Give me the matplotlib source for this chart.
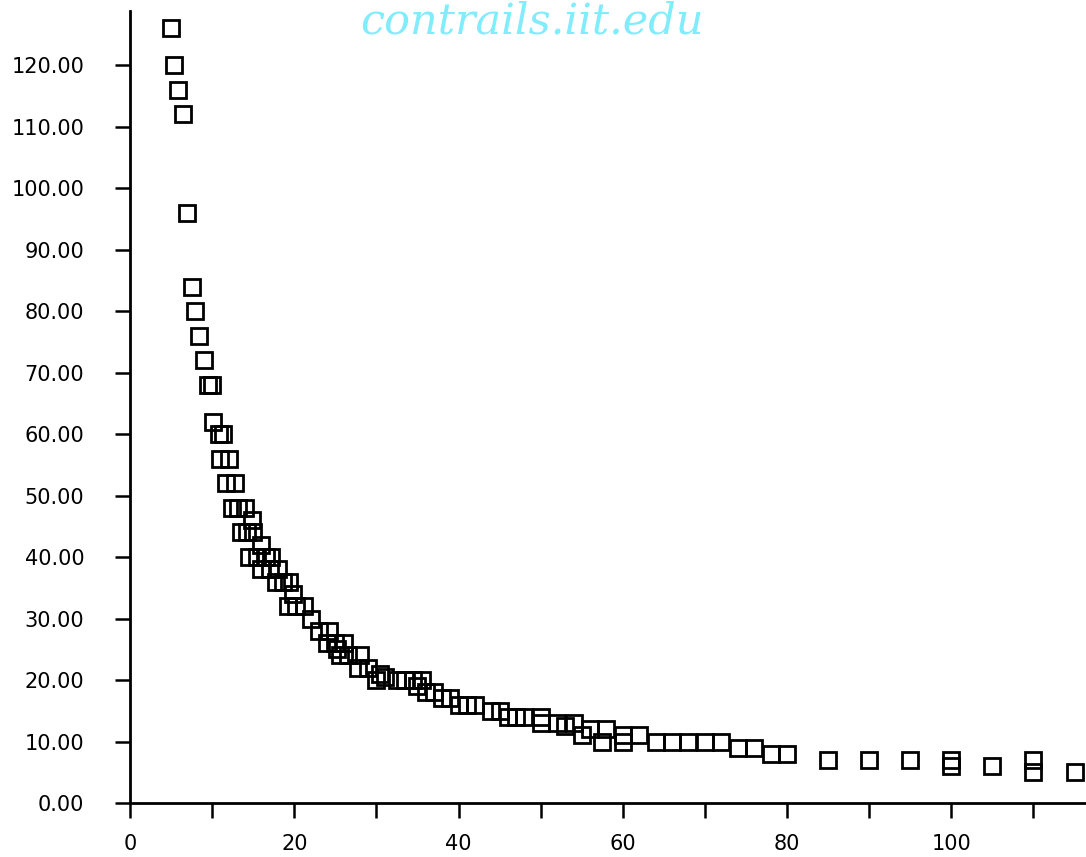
import matplotlib
matplotlib.use("Agg")
import matplotlib.pyplot as plt
import numpy as np


# DATA
x_vals = [5.0, 5.4, 5.9, 6.4, 6.9, 7.5, 7.9, 8.4, 9.0, 9.5, 10.0, 10.1,
          10.8, 11.3, 11.0, 12.0, 11.7, 12.8, 12.4, 13.2, 14.0, 14.8,
          13.5, 14.3, 15.0, 16.0, 14.5, 15.5, 16.5, 17.2, 16.0, 17.0,
          18.0, 17.8, 18.6, 19.3, 19.8, 19.2, 20.2, 21.2, 22.0, 23.0,
          24.2, 24.0, 25.0, 26.0, 25.2, 25.6, 26.6, 28.0, 27.8, 29.0,
          30.0, 31.0, 30.5, 32.5, 33.5, 34.5, 35.5, 35.0, 36.0, 37.0,
          38.0, 39.0, 40.0, 41.0, 42.0, 44.0, 45.0, 46.0, 47.0, 48.0,
          50.0, 50.0, 52.0, 53.0, 54.0, 55.0, 56.0, 58.0, 57.5, 60.0,
          60.0, 62.0, 64.0, 66.0, 68.0, 70.0, 72.0, 74.0, 76.0, 78.0,
          80.0, 85.0, 90.0, 95.0, 100.0, 100.0, 105.0, 110.0, 110.0, 115.0]
y_vals = [126, 120, 116, 112, 96, 84, 80, 76, 72, 68, 68, 62,
          60, 60, 56, 56, 52, 52, 48, 48, 48, 46,
          44, 44, 44, 42, 40, 40, 40, 40, 38, 38,
          38, 36, 36, 36, 34, 32, 32, 32, 30, 28,
          28, 26, 26, 26, 25, 24, 24, 24, 22, 22,
          20, 20.5, 21, 20, 20, 20, 20, 19, 18, 18,
          17, 17, 16, 16, 16, 15, 15, 14, 14, 14,
          14, 13, 13, 12.5, 13, 11, 12, 12, 10, 11,
          10, 11, 10, 10, 10, 10, 10, 9, 9, 8,
          8, 7, 7, 7, 7, 6, 6, 7, 5, 5]

x_ticks = list(range(0, 111, 10))
x_tick_labels = [str(t) if t % 20 == 0 else "" for t in x_ticks]
y_ticks = list(range(0, 121, 10))
y_tick_labels = ["%.2f" % t for t in y_ticks]


fig = plt.figure(figsize=(10.86, 8.57), dpi=100)
ax = fig.add_axes([0.1197, 0.063, 0.8803, 0.924])

ax.plot(x_vals, y_vals, linestyle="none", marker="s", markersize=11,
        markerfacecolor="none", markeredgecolor="black", markeredgewidth=2.0)

ax.set_xlim(0, 116.4)
ax.set_ylim(0, 128.8)

ax.set_xticks(x_ticks)
ax.set_xticklabels(x_tick_labels)
ax.set_yticks(y_ticks)
ax.set_yticklabels(y_tick_labels)

for side in ["top", "right"]:
    ax.spines[side].set_visible(False)
for side in ["left", "bottom"]:
    ax.spines[side].set_linewidth(2.0)

ax.tick_params(axis="both", direction="out", length=11, width=1.8,
               labelsize=15)
ax.tick_params(axis="y", pad=22)
ax.tick_params(axis="x", pad=11)

# watermark
fig.text(0.49, 0.975, "contrails.iit.edu", color="#80ecfc",
         fontsize=31, fontstyle="italic", family="DejaVu Serif",
         ha="center", va="center")

fig.savefig("out.png", dpi=100)
